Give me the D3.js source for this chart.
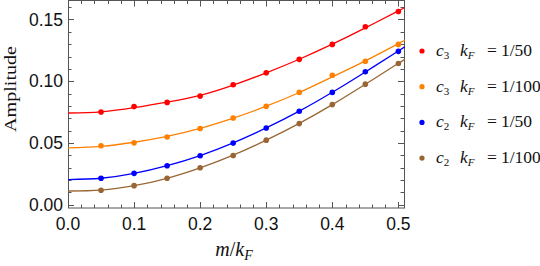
<!DOCTYPE html>
<html>
<head>
<meta charset="utf-8">
<script src="https://cdn.jsdelivr.net/npm/d3@7"></script>
<style>
  body { margin: 0; background: #fff; }
  svg { display: block; }
</style>
</head>
<body>
<div id="chart"></div>
<script>
// sampled points (m/k_F)
var pointX = [0.05, 0.1, 0.15, 0.2, 0.25, 0.3, 0.35, 0.4, 0.45, 0.5];
var redPts    = [0.0750, 0.0794, 0.0828, 0.0879, 0.0971, 0.1068, 0.1177, 0.1298, 0.1441, 0.1565];
var orangePts = [0.0476, 0.0500, 0.0548, 0.0616, 0.0702, 0.0796, 0.0909, 0.1048, 0.1161, 0.1298];
var bluePts   = [0.0213, 0.0253, 0.0315, 0.0395, 0.0498, 0.0621, 0.0756, 0.0909, 0.1076, 0.1242];
var brownPts  = [0.0116, 0.0153, 0.0213, 0.0298, 0.0398, 0.0522, 0.0656, 0.0810, 0.0976, 0.1143];

// fitted curves
var fitX = [0, 0.05, 0.1, 0.15, 0.2, 0.25, 0.3, 0.35, 0.4, 0.45, 0.5, 0.5085];
var redFit    = [0.0742, 0.0752, 0.0785, 0.0830, 0.0885, 0.0968, 0.1068, 0.1178, 0.1300, 0.1432, 0.1570, 0.1594];
var orangeFit = [0.0460, 0.0472, 0.0505, 0.0553, 0.0617, 0.0700, 0.0797, 0.0908, 0.1035, 0.1165, 0.1305, 0.1328];
var blueFit   = [0.0202, 0.0213, 0.0252, 0.0315, 0.0397, 0.0500, 0.0621, 0.0757, 0.0910, 0.1075, 0.1245, 0.1274];
var brownFit  = [0.0110, 0.0117, 0.0153, 0.0213, 0.0297, 0.0400, 0.0522, 0.0658, 0.0810, 0.0975, 0.1145, 0.1172];

var seriesColors = ["#ff0000", "#ff8000", "#0000ff", "#996633"];
var seriesNames = [["3", "1/50"], ["3", "1/100"], ["2", "1/50"], ["2", "1/100"]];
var xTicks = [0.0, 0.1, 0.2, 0.3, 0.4, 0.5];
var yTicks = [0.00, 0.05, 0.10, 0.15];

var allPts = [redPts, orangePts, bluePts, brownPts];
var allFits = [redFit, orangeFit, blueFit, brownFit];

var svgWidth = 540, svgHeight = 266;
var frame = { left: 68, right: 404, top: 0.5, bottom: 208 };

var svg = d3.select("#chart").append("svg")
    .attr("width", svgWidth)
    .attr("height", svgHeight);

var x = d3.scaleLinear()
    .domain([0, 0.5085])
    .range([frame.left, frame.right]);

var y = d3.scaleLinear()
    .domain([-0.0028, 0.1654])
    .range([frame.bottom, frame.top]);

var frameColor = "#555";

// Ticks (inside the frame, on all four sides)
var ticks = svg.append("g").attr("stroke", frameColor).attr("stroke-width", 1);
d3.range(0, 0.5001, 0.02).forEach(function(v) {
    var major = Math.abs(v * 10 - Math.round(v * 10)) < 1e-6;
    var len = major ? 6 : 3.5;
    var px = Math.round(x(v)) + 0.5;
    ticks.append("line").attr("x1", px).attr("x2", px).attr("y1", frame.bottom).attr("y2", frame.bottom - len);
    ticks.append("line").attr("x1", px).attr("x2", px).attr("y1", frame.top).attr("y2", frame.top + len);
});
d3.range(0, 0.1601, 0.01).forEach(function(v) {
    var major = Math.abs(v * 20 - Math.round(v * 20)) < 1e-6;
    var len = major ? 6 : 3.5;
    var py = Math.round(y(v)) + 0.5;
    ticks.append("line").attr("x1", frame.left).attr("x2", frame.left + len).attr("y1", py).attr("y2", py);
    ticks.append("line").attr("x1", frame.right).attr("x2", frame.right - len).attr("y1", py).attr("y2", py);
});

// Frame
svg.append("rect")
    .attr("x", frame.left + 0.5)
    .attr("y", frame.top)
    .attr("width", frame.right - frame.left)
    .attr("height", frame.bottom - frame.top)
    .attr("fill", "none")
    .attr("stroke", frameColor)
    .attr("stroke-width", 1);

// Tick labels
svg.append("g").selectAll("text")
    .data(xTicks)
    .enter().append("text")
    .attr("x", function(d) { return x(d); })
    .attr("y", 230)
    .attr("text-anchor", "middle")
    .attr("font-family", "Liberation Sans, Arial, sans-serif")
    .attr("font-size", "17.5px")
    .attr("fill", "#111")
    .text(function(d) { return d.toFixed(1); });

svg.append("g").selectAll("text")
    .data(yTicks)
    .enter().append("text")
    .attr("x", 63)
    .attr("y", function(d) { return y(d) + 6.3; })
    .attr("text-anchor", "end")
    .attr("font-family", "Liberation Sans, Arial, sans-serif")
    .attr("font-size", "17.5px")
    .attr("fill", "#111")
    .text(function(d) { return d.toFixed(2); });

// Axis titles
svg.append("text")
    .attr("transform", "translate(15.5," + 89 + ") rotate(-90)")
    .attr("text-anchor", "middle")
    .attr("font-family", "Liberation Serif, Times New Roman, serif")
    .attr("font-size", "17px")
    .attr("textLength", 86)
    .attr("lengthAdjust", "spacingAndGlyphs")
    .attr("fill", "#111")
    .text("Amplitude");

var xl = svg.append("text")
    .attr("x", 234)
    .attr("y", 256)
    .attr("text-anchor", "middle")
    .attr("font-family", "Liberation Serif, Times New Roman, serif")
    .attr("font-size", "20px")
    .attr("font-style", "italic")
    .attr("fill", "#111");
xl.append("tspan").text("m");
xl.append("tspan").attr("font-style", "normal").text("/");
xl.append("tspan").text("k");
xl.append("tspan").attr("font-size", "14px").attr("dy", 4).text("F");

// Curves and points
var line = d3.line()
    .x(function(d) { return x(d[0]); })
    .y(function(d) { return y(d[1]); })
    .curve(d3.curveNatural);

var plot = svg.append("g");
allFits.forEach(function(fit, i) {
    plot.append("path")
        .datum(fitX.map(function(v, j) { return [v, fit[j]]; }))
        .attr("d", line)
        .attr("fill", "none")
        .attr("stroke", seriesColors[i])
        .attr("stroke-width", 1.3);
});
allPts.forEach(function(pts, i) {
    plot.append("g").selectAll("circle")
        .data(pts)
        .enter().append("circle")
        .attr("cx", function(d, j) { return x(pointX[j]); })
        .attr("cy", function(d) { return y(d); })
        .attr("r", 2.8)
        .attr("fill", seriesColors[i]);
});

// Legend
var legend = svg.append("g").attr("transform", "translate(422,51)");
seriesNames.forEach(function(n, i) {
    var row = legend.append("g").attr("transform", "translate(0," + (i * 35.7) + ")");
    row.append("circle").attr("r", 2.6).attr("fill", seriesColors[i]);
    var t = row.append("text")
        .attr("x", 14)
        .attr("y", 5)
        .attr("font-family", "Liberation Serif, Times New Roman, serif")
        .attr("font-size", "17.5px")
        .attr("fill", "#111");
    t.append("tspan").attr("font-style", "italic").text("c");
    t.append("tspan").attr("font-size", "11px").attr("dy", 3).text(n[0]);
    t.append("tspan").attr("font-style", "italic").attr("x", 38).attr("dy", -3).text("k");
    t.append("tspan").attr("font-style", "italic").attr("font-size", "11px").attr("dy", 3).text("F");
    t.append("tspan").attr("dy", -3).attr("x", 65).text("=");
    t.append("tspan").attr("x", 79).text(n[1]);
});
</script>
</body>
</html>
